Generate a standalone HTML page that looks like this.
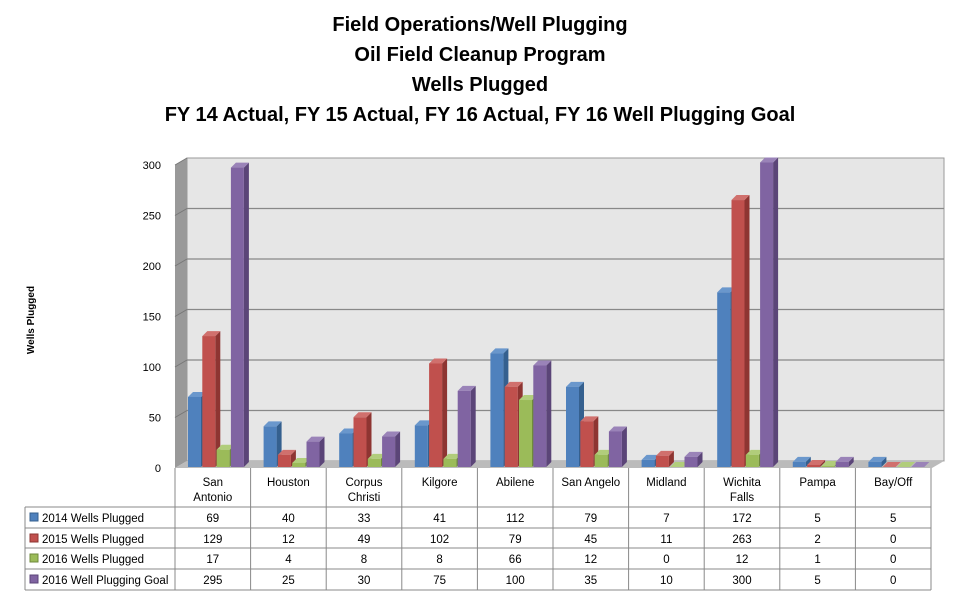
<!DOCTYPE html>
<html><head><meta charset="utf-8"><style>
body{margin:0;background:#fff;width:965px;height:607px;overflow:hidden}
svg{display:block;font-family:"Liberation Sans",sans-serif}
</style></head><body>
<svg id="s" width="965" height="607" viewBox="0 0 965 607">
<g font-weight="bold" font-size="20" text-anchor="middle" fill="#000">
<text x="480" y="31">Field Operations/Well Plugging</text>
<text x="480" y="61">Oil Field Cleanup Program</text>
<text x="480" y="91">Wells Plugged</text>
<text x="480" y="121">FY 14 Actual, FY 15 Actual, FY 16 Actual, FY 16 Well Plugging Goal</text>
</g>
<text transform="translate(34,320) rotate(-90)" font-size="10" font-weight="bold" text-anchor="middle">Wells Plugged</text>
<polygon points="187,158 944,158 944,461 187,461" fill="#e6e6e6" stroke="#999" stroke-width="1"/>
<polygon points="175,165 187,158 187,461 175,468" fill="#999"/>
<polygon points="175,468 187,461 944,461 932,468" fill="#bbb"/>
<g id="grid"></g>
<g id="bars"></g>
<g id="tbl" font-size="11.5" text-anchor="middle"></g>
</svg>
<script>
(function(){
const ns="http://www.w3.org/2000/svg";
function el(p,t,a,txt){const e=document.createElementNS(ns,t);for(const k in a)e.setAttribute(k,a[k]);if(txt!=null)e.textContent=txt;p.appendChild(e);return e;}
const g=document.getElementById('grid'),b=document.getElementById('bars'),t=document.getElementById('tbl');
for(let i=0;i<=6;i++){const v=i*50;const yb=461-v*1.01,yf=468-v*1.01;
 if(i>0&&i<6)el(g,'line',{x1:187,y1:yb,x2:944,y2:yb,stroke:'#888','stroke-width':1.3});
 if(i>0)el(g,'line',{x1:175,y1:yf,x2:187,y2:yb,stroke:'#777','stroke-width':1});
 el(g,'text',{x:161,y:yf+4,'font-size':11,'text-anchor':'end'},String(v));}
const cats=[["San","Antonio"],["Houston"],["Corpus","Christi"],["Kilgore"],["Abilene"],["San Angelo"],["Midland"],["Wichita","Falls"],["Pampa"],["Bay/Off"]];
const data=[[69,40,33,41,112,79,7,172,5,5],[129,12,49,102,79,45,11,263,2,0],[17,4,8,8,66,12,0,12,1,0],[295,25,30,75,100,35,10,300,5,0]];
const names=["2014 Wells Plugged","2015 Wells Plugged","2016 Wells Plugged","2016 Well Plugging Goal"];
const col=["#4F81BD","#C0504D","#9BBB59","#8064A2"],side=["#35608f","#8e3532","#6f8a3c","#5b4578"],tp=["#6a97cc","#d0706d","#b1cd7b","#9a83b8"];
const cw=75.6,x0=175;
for(let c=0;c<10;c++){for(let s=0;s<4;s++){const v=data[s][c];const x=x0+c*cw+13+s*14.3,w=13,d=5,yb=467,h=v*1.015,y=yb-h;
 el(b,'polygon',{points:`${x+w},${y} ${x+w+d},${y-d} ${x+w+d},${yb-d} ${x+w},${yb}`,fill:side[s]});
 el(b,'polygon',{points:`${x},${y} ${x+d},${y-d} ${x+w+d},${y-d} ${x+w},${y}`,fill:tp[s]});
 el(b,'rect',{x:x,y:y,width:w,height:h,fill:col[s]});}}
const L='#888';
const rows=[507,528,548,569,590];
el(t,'line',{x1:25,y1:507,x2:931,y2:507,stroke:L});
for(let r=1;r<5;r++)el(t,'line',{x1:25,y1:rows[r],x2:931,y2:rows[r],stroke:L});
el(t,'line',{x1:25,y1:507,x2:25,y2:590,stroke:L});
for(let c=0;c<=10;c++){const x=x0+c*cw;el(t,'line',{x1:x,y1:468,x2:x,y2:590,stroke:L});}
for(let c=0;c<10;c++){const cx=x0+c*cw+cw/2;const n=cats[c];
 if(n.length==1)el(t,'text',{x:cx,y:486},n[0]);else{el(t,'text',{x:cx,y:486},n[0]);el(t,'text',{x:cx,y:501},n[1]);}
 for(let s=0;s<4;s++)el(t,'text',{x:cx,y:rows[s]+15},String(data[s][c]));}
for(let s=0;s<4;s++){el(t,'rect',{x:30,y:rows[s]+6,width:8,height:8,fill:col[s],stroke:side[s]});
 el(t,'text',{x:42,y:rows[s]+15,'text-anchor':'start'},names[s]);}
})();
</script>
</body></html>
